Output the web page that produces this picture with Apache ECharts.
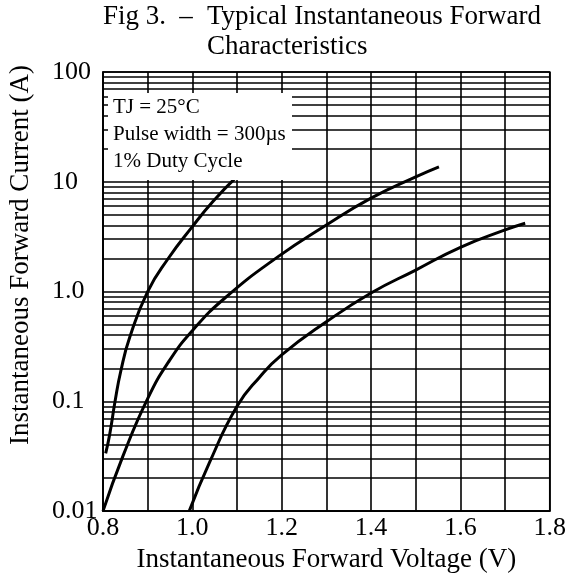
<!DOCTYPE html>
<html><head><meta charset="utf-8">
<script src="https://cdn.jsdelivr.net/npm/echarts@6/dist/echarts.min.js"></script>
<style>html,body{margin:0;padding:0;background:#fff}#c{width:569px;height:578px}</style>
</head><body><div id="c"></div>
<script>
// Data
var curve1V = [0.806, 0.815, 0.827, 0.84, 0.86, 0.9, 0.946, 1.0, 1.046, 1.1];
var curve1I = [0.0335, 0.05, 0.1, 0.19, 0.385, 1.0, 2.0, 3.9, 6.6, 11.2];
var curve2V = [0.8, 0.845, 0.9, 0.949, 1.0, 1.071, 1.192, 1.3, 1.4, 1.5, 1.552];
var curve2I = [0.01, 0.032, 0.106, 0.236, 0.44, 0.86, 2.08, 4.04, 7.1, 11.1, 13.7];
var curve3V = [0.993, 1.038, 1.1, 1.15, 1.2, 1.3, 1.4, 1.5, 1.6, 1.7, 1.745];
var curve3I = [0.01, 0.0275, 0.09, 0.165, 0.265, 0.53, 0.97, 1.57, 2.53, 3.64, 4.19];
var yTickLabels = {'100': '100', '10': '10', '1': '1.0', '0.1': '0.1', '0.01': '0.01'};
var xLabelValues = ['0.8', '1.0', '1.2', '1.4', '1.6', '1.8'];
var decades = [0.01, 0.1, 1, 10];
var minorMultipliers = [2, 3, 4, 5, 6, 7, 8, 9];
var noteLines = ['TJ = 25°C', 'Pulse width = 300µs', '1% Duty Cycle'];
var titleParts = ['Fig 3.', '–', 'Typical Instantaneous Forward', 'Characteristics'];
var xName = 'Instantaneous Forward Voltage (V)';
var yName = 'Instantaneous Forward Current (A)';

function pairs(v, i) { return v.map(function (x, k) { return [x, i[k]]; }); }
var minorLines = [];
decades.forEach(function (d) {
  minorMultipliers.forEach(function (m) { minorLines.push({ yAxis: +(d * m).toPrecision(3) }); });
});

var FONT = '"Liberation Serif", "Times New Roman", serif';
var chart = echarts.init(document.getElementById('c'));
var lineS = { color: '#000', width: 3 };
function curve(v, i) {
  return { type: 'line', data: pairs(v, i), smooth: 0.5, symbol: 'none', lineStyle: lineS, z: 5 };
}
var s1 = curve(curve1V, curve1I);
s1.markLine = { silent: true, symbol: 'none', label: { show: false }, animation: false,
  lineStyle: { color: '#000', width: 1.6, type: 'solid' }, data: minorLines };
chart.setOption({
  animation: false,
  backgroundColor: '#fff',
  grid: { left: 103, right: 16, top: 72, bottom: 66, show: true, borderColor: '#000', borderWidth: 1.6 },
  xAxis: {
    type: 'value', min: 0.8, max: 1.8, interval: 0.1,
    name: xName, nameLocation: 'middle', nameGap: 34,
    nameTextStyle: { fontFamily: FONT, fontSize: 27, color: '#000' },
    axisLine: { lineStyle: { color: '#000', width: 1.6 } },
    axisTick: { show: false },
    axisLabel: {
      fontFamily: FONT, fontSize: 26, color: '#000', margin: 4, showMinLabel: true, showMaxLabel: true,
      formatter: function (v) { var s = v.toFixed(1); return xLabelValues.indexOf(s) >= 0 ? s : ''; }
    },
    splitLine: { show: true, lineStyle: { color: '#000', width: 1.6 } }
  },
  yAxis: {
    type: 'log', logBase: 10, min: 0.01, max: 100,
    axisLine: { lineStyle: { color: '#000', width: 1.6 } },
    axisTick: { show: false },
    axisLabel: {
      fontFamily: FONT, fontSize: 26, color: '#000', margin: 51, align: 'left',
      formatter: function (v) { var k = String(+v.toPrecision(3)); return yTickLabels[k] || ''; }
    },
    splitLine: { show: true, lineStyle: { color: '#000', width: 1.6 } }
  },
  series: [s1, curve(curve2V, curve2I), curve(curve3V, curve3I)],
  graphic: [
    { type: 'rect', z: 50, shape: { x: 108, y: 93, width: 184, height: 87 }, style: { fill: '#fff' } },
    { type: 'text', z: 51, x: 113, y: 107, style: { text: noteLines[0], font: '21px ' + FONT, fill: '#000', verticalAlign: 'middle' } },
    { type: 'text', z: 51, x: 113, y: 134, style: { text: noteLines[1], font: '21px ' + FONT, fill: '#000', verticalAlign: 'middle' } },
    { type: 'text', z: 51, x: 113, y: 161, style: { text: noteLines[2], font: '21px ' + FONT, fill: '#000', verticalAlign: 'middle' } },
    { type: 'text', z: 51, x: 166, y: 3, style: { text: titleParts[0], font: '27px ' + FONT, fill: '#000', align: 'right' } },
    { type: 'text', z: 51, x: 186, y: 3, style: { text: titleParts[1], font: '27px ' + FONT, fill: '#000', align: 'center' } },
    { type: 'text', z: 51, x: 207, y: 3, style: { text: titleParts[2], font: '27px ' + FONT, fill: '#000' } },
    { type: 'text', z: 51, x: 207, y: 33, style: { text: titleParts[3], font: '27px ' + FONT, fill: '#000' } },
    { type: 'text', z: 51, x: 7, y: 255, rotation: Math.PI / 2,
      style: { text: yName, font: '27px ' + FONT, fill: '#000', align: 'center', verticalAlign: 'top' } }
  ]
});
</script></body></html>
